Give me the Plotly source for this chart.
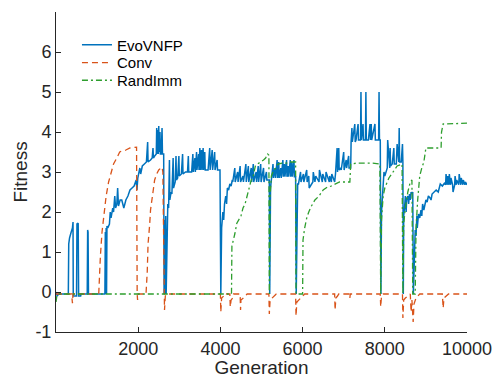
import plotly.graph_objects as go

# ---------------- data ----------------
evo_gen = [1, 30, 60, 300, 310, 330, 370, 400, 414, 420, 500, 510, 540, 550, 600, 610, 760, 770, 780, 790,
           1190, 1200, 1210, 1220, 1230, 1240, 1260, 1300, 1320, 1340, 1380, 1400, 1430, 1450, 1480, 1500, 1520,
           1560, 1600, 1650, 1700, 1750, 1800, 1850, 1900, 1950, 1970, 1990, 2000, 2040, 2060, 2100, 2150, 2200,
           2230, 2240, 2300, 2340, 2360, 2370, 2400, 2440, 2450, 2460, 2480, 2490, 2500, 2510, 2530, 2540, 2560,
           2580, 2590, 2620, 2630, 2650, 2655, 2670, 2680, 2700,
           2720, 2740, 2760, 2770, 2800, 2820, 2850, 2860, 2900, 2920, 2930, 2960, 2990, 3000, 3050, 3080, 3090,
           3150, 3200, 3220, 3230, 3300, 3330, 3340, 3380, 3390, 3420, 3430, 3470, 3480, 3500, 3510, 3540, 3550,
           3580, 3590, 3620, 3630, 3700, 3740, 3750, 3800, 3810, 3860, 3870, 3920, 3930, 3990, 4010,
           4030, 4060, 4080, 4100, 4130, 4150, 4170, 4200, 4230, 4260, 4290,
           4300, 4350, 4360, 4420, 4430, 4480, 4490, 4550, 4560, 4620, 4630, 4680, 4690, 4750, 4760, 4800, 4810,
           4870, 4880, 4920, 4930, 4980, 4990, 5050, 5060, 5120, 5130, 5190, 5200,
           5220, 5240, 5280, 5290, 5330, 5340, 5380, 5390, 5420, 5430, 5470, 5480, 5520, 5530, 5560, 5570,
           5610, 5620, 5650, 5660, 5700, 5710, 5740, 5750, 5790, 5800, 5830, 5845,
           5880, 5900, 5950, 5960, 6020, 6030, 6100, 6110, 6150, 6160, 6250, 6260, 6300, 6320, 6400, 6410,
           6480, 6490, 6560, 6570, 6650, 6660, 6700, 6710, 6780, 6800,
           6840, 6850, 6880, 6890, 6930, 6940, 7000, 7010, 7060, 7070, 7120, 7130, 7170, 7180,
           7200, 7210, 7270, 7280, 7300, 7350, 7360, 7410, 7420, 7430, 7470, 7480, 7530, 7540, 7550,
           7600, 7640, 7650, 7670, 7680, 7760, 7770, 7850, 7860, 7870, 7890, 7905,
           7920, 7950, 7980, 8000, 8060, 8070, 8120, 8130, 8140, 8180, 8220, 8230, 8280, 8300, 8340, 8350, 8360,
           8400, 8430, 8440, 8450,
           8460, 8480, 8500, 8520, 8530, 8560, 8580, 8600, 8620, 8640, 8660, 8680, 8695,
           8740, 8760, 8780, 8790, 8820, 8850, 8880, 8900, 8920, 8950, 8980, 9000, 9030, 9060, 9100, 9125, 9150,
           9200, 9250, 9300, 9325, 9350, 9400, 9450, 9480, 9490, 9520, 9530, 9560, 9570, 9600, 9610, 9650, 9660,
           9700, 9710, 9740, 9750, 9800, 9810, 9850, 9860, 9900, 9910, 9950, 9960, 10000]
evo_fit = [0.0, -0.1, -0.05, -0.05, 1.2, 1.35, 1.5, 1.6, 1.75, -0.1, -0.1, 1.7, 1.72, -0.1, -0.1, -0.05, -0.05, 1.55, 1.5, -0.05,
           -0.05, 1.5, -0.05, 1.6, -0.05, 1.65, 1.6, 1.7, 2.0, 1.85, 2.1, 2.0, 2.4, 2.1, 2.2, 2.6, 2.15,
           2.3, 2.3, 2.1, 2.3, 2.4, 2.55, 2.6, 2.65, 2.8, 2.55, 2.85, 2.9, 3.1, 2.95, 3.15, 3.2, 3.25,
           3.75, 3.25, 3.3, 3.35, 3.6, 3.35, 3.4, 3.45, 4.1, 3.45, 4.05, 3.45, 4.15, 3.5, 4.0, 3.45, 3.45,
           4.1, 3.45, 3.45, -0.05, 1.8, -0.05, 1.9, -0.05, 2.0,
           2.2, 2.1, 3.3, 2.3, 2.5, 2.45, 3.35, 2.6, 2.75, 3.4, 2.8, 2.85, 3.4, 2.9, 2.95, 3.45, 2.95,
           3.0, 3.0, 3.4, 3.0, 3.0, 3.45, 3.0, 3.35, 3.0, 3.5, 3.05, 3.45, 3.05, 3.6, 3.05, 3.55, 3.05,
           3.6, 3.05, 3.5, 3.05, 3.05, 3.6, 3.05, 3.55, 3.05, 3.5, 3.05, 3.3, 3.05, 3.05, -0.05,
           1.6, 2.0, 1.8, 2.2, 2.4, 2.2, 2.6, 2.55, 2.7, 2.65, 2.8,
           2.75, 3.1, 2.75, 3.0, 2.75, 3.15, 2.75, 2.9, 2.75, 3.2, 2.75, 3.15, 2.75, 3.1, 2.75, 3.2, 2.75,
           3.0, 2.75, 3.15, 2.75, 3.2, 2.75, 3.1, 2.75, 3.0, 2.8, 2.8, -0.05,
           2.6, 2.8, 3.2, 2.85, 3.1, 2.85, 3.3, 2.85, 3.25, 2.85, 3.1, 2.85, 3.3, 2.88, 3.2, 2.88,
           3.3, 2.88, 3.15, 2.88, 3.3, 2.88, 3.25, 2.88, 3.3, 2.88, 2.88, -0.05,
           2.7, 2.7, 3.0, 2.75, 2.95, 2.75, 3.05, 2.75, 2.9, 2.6, 2.75, 3.0, 2.75, 2.9, 2.75, 3.05,
           2.75, 2.95, 2.75, 3.0, 2.75, 2.9, 2.75, 2.95, 2.75, 2.95,
           3.6, 3.0, 3.6, 3.05, 3.1, 3.05, 3.5, 3.05, 3.3, 3.1, 3.4, 3.1, 3.1, 3.75,
           4.1, 3.75, 4.2, 3.75, 3.8, 4.2, 3.8, 3.8, 5.0, 3.8, 4.2, 3.8, 3.8, 5.0, 3.8,
           3.8, 4.2, 3.8, 4.2, 3.8, 4.2, 3.8, 3.8, 5.0, 3.8, 3.8, -0.05,
           2.0, 2.6, 3.0, 2.9, 3.1, 3.8, 3.1, 3.6, 3.15, 3.2, 3.6, 3.2, 3.2, 3.7, 3.25, 4.1, 3.25,
           3.25, 3.7, 3.25, -0.05,
           1.9, 2.1, 2.4, 2.0, 2.3, 2.4, 2.2, 2.45, 2.3, 2.5, 2.45, 2.5, -0.05,
           1.55, 1.4, 1.9, 1.6, 1.95, 1.85, 2.05, 1.9, 2.2, 2.05, 2.2, 2.3, 2.25, 2.4, 2.35, 2.3, 2.45,
           2.5, 2.55, 2.5, 2.6, 2.7, 2.65, 2.72, 2.68, 2.95, 2.68, 2.9, 2.68, 2.95, 2.68, 2.85, 2.68, 2.5,
           2.68, 2.9, 2.68, 2.8, 2.68, 2.95, 2.68, 2.85, 2.68, 2.8, 2.68, 2.75, 2.68, 2.65]

conv_gen = [1, 380, 400, 415, 1040, 1060, 1080, 1120, 1160, 1220, 1280, 1350, 1400, 1480, 1550, 1600, 1700,
            1800, 1960, 1975, 1985, 2000, 2190, 2220, 2240, 2280, 2300, 2360, 2400, 2450, 2500, 2550, 2580,
            2600, 2620, 2640, 2660, 2700, 4000, 4010, 4030, 4080, 4140, 4150, 4230, 4240, 4260, 4300, 4320,
            4480, 4490, 4500, 4560, 4600, 4650, 5180, 5190, 5210, 5260, 5300, 5360, 5830, 5840, 5860, 5900,
            5950, 6000, 6050, 6780, 6790, 6810, 6850, 6880, 7140, 7150, 7160, 7890, 7900, 7920, 7960, 8430,
            8440, 8460, 8500, 8550, 8620, 8640, 8660, 8690, 8710, 8760, 8800, 8850, 9400, 9420, 9440, 9500,
            9550, 10000]
conv_fit = [-0.05, -0.05, -0.28, -0.05, -0.05, 0.5, 0.9, 1.5, 1.9, 2.4, 2.75, 3.05, 3.2, 3.35, 3.5, 3.52, 3.55,
            3.6, 3.62, -0.05, -0.2, -0.05, -0.05, 0.5, 1.2, 1.7, 2.05, 2.5, 2.8, 2.95, 3.05, 3.1, 3.12,
            3.0, -0.05, -0.45, -0.1, -0.05, -0.05, -0.5, -0.15, -0.1, -0.1, -0.05, -0.05, -0.37, -0.2, -0.15, -0.05,
            -0.05, -0.45, -0.2, -0.15, -0.1, -0.05, -0.05, -0.55, -0.2, -0.15, -0.1, -0.05, -0.05, -0.6, -0.25, -0.2,
            -0.15, -0.1, -0.05, -0.05, -0.45, -0.15, -0.1, -0.05, -0.05, -0.15, -0.05, -0.05, -0.37, -0.1, -0.05, -0.05,
            -0.65, -0.2, -0.15, -0.1, -0.05, -0.5, -0.2, -0.75, -0.3, -0.15, -0.1, -0.05, -0.05, -0.4, -0.15, -0.1,
            -0.05, -0.05]

rand_gen = [1, 20, 60, 4270, 4280, 4320, 4350, 4400, 4450, 4500, 4550, 4600, 4650, 4700, 4750, 4800, 4850,
            4900, 4980, 5050, 5100, 5150, 5180, 5190, 5210, 5240, 5300, 5350, 5400, 5500, 5600, 5700, 5830,
            5840, 6000, 6010, 6050, 6100, 6150, 6200, 6300, 6400, 6500, 6600, 6700, 6800, 6900, 7150, 7170,
            7300, 7500, 7700, 7880, 7900, 7920, 7960, 8000, 8100, 8200, 8300, 8420, 8440, 8460, 8500, 8560,
            8620, 8660, 8680, 8740, 8760, 8800, 8850, 8900, 8950, 9000, 9030, 9200, 9370, 9380, 9420, 10000]
rand_fit = [-0.25, -0.1, -0.05, -0.05, 1.15, 1.3, 1.45, 1.72, 1.8, 1.9, 2.1, 2.2, 2.4, 2.6, 2.8, 2.9, 3.15,
            3.2, 3.25, 3.3, 3.35, 3.45, 3.42, -0.05, 2.4, 2.9, 3.05, 3.1, 3.2, 3.22, 3.22, 3.25, 3.25,
            -0.05, -0.05, 1.3, 1.6, 1.85, 2.0, 2.12, 2.3, 2.4, 2.55, 2.62, 2.65, 2.7, 2.75, 2.75, 3.2,
            3.22, 3.22, 3.22, 3.2, -0.05, 1.8, 2.4, 2.6, 2.85, 3.0, 3.15, 3.2, -0.05, 1.7, 2.1, 2.5,
            2.75, 2.8, -0.05, -0.05, 1.6, 2.3, 2.9, 3.1, 3.25, 3.6, 3.6, 3.6, 3.6, 4.0, 4.2, 4.22]

x_ticks = [2000, 4000, 6000, 8000, 10000]
y_ticks = [-1, 0, 1, 2, 3, 4, 5, 6]

# ---------------- figure ----------------
FONT = "Liberation Sans, Arial, Helvetica, sans-serif"
AX = "#262626"

fig = go.Figure()
fig.add_trace(go.Scatter(x=evo_gen, y=evo_fit, mode="lines", name="EvoVNFP", legend="legend",
                         line=dict(color="#0072BD", width=1.5)))
fig.add_trace(go.Scatter(x=conv_gen, y=conv_fit, mode="lines", name="Conv", legend="legend2",
                         line=dict(color="#D95319", width=1.3, dash="6px,4px")))
fig.add_trace(go.Scatter(x=rand_gen, y=rand_fit, mode="lines", name="RandImm", legend="legend3",
                         line=dict(color="#2E9E2E", width=1.3, dash="6px,3px,2px,3px")))

leg_common = dict(x=0.051, xanchor="left", yanchor="middle", bgcolor="rgba(0,0,0,0)", borderwidth=0,
                  font=dict(size=15, family=FONT, color="#000000"), itemwidth=30)

fig.update_layout(
    width=493, height=378,
    margin=dict(l=56, r=26, t=12, b=46, autoexpand=False),
    paper_bgcolor="white", plot_bgcolor="white",
    font=dict(family=FONT, color=AX),
    legend=dict(y=0.897, **leg_common),
    legend2=dict(y=0.841, **leg_common),
    legend3=dict(y=0.786, **leg_common),
    showlegend=True,
)
fig.update_xaxes(range=[0, 10000], tickvals=x_ticks, ticktext=[str(v) for v in x_ticks],
                 ticks="inside", ticklen=5, tickcolor=AX, showline=True, linecolor=AX, linewidth=1,
                 showgrid=False, zeroline=False, automargin=True,
                 tickfont=dict(size=18, family=FONT, color=AX),
                 title=dict(text="Generation", font=dict(size=19, family=FONT, color=AX), standoff=3))
fig.update_yaxes(range=[-1, 7], tickvals=y_ticks, ticktext=[str(v) for v in y_ticks],
                 ticks="inside", ticklen=5, tickcolor=AX, showline=True, linecolor=AX, linewidth=1,
                 showgrid=False, zeroline=False, automargin=True,
                 tickfont=dict(size=18, family=FONT, color=AX),
                 title=dict(text="Fitness", font=dict(size=19, family=FONT, color=AX), standoff=2))

fig.write_html("out.html", config={"displayModeBar": False},
               post_script="document.body.style.margin='0px';document.body.style.overflow='hidden';")
